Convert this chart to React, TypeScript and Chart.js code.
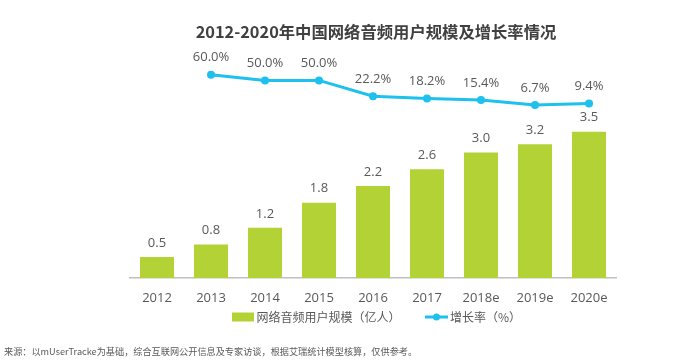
import React, { useEffect, useRef } from "react";
import { Chart, registerables } from "chart.js";

Chart.register(...registerables);

const categories = ["2012", "2013", "2014", "2015", "2016", "2017", "2018e", "2019e", "2020e"];
const userScale = [0.5, 0.8, 1.2, 1.8, 2.2, 2.6, 3.0, 3.2, 3.5];
const growthRate: (number | null)[] = [null, 60.0, 50.0, 50.0, 22.2, 18.2, 15.4, 6.7, 9.4];
const barLabel = "网络音频用户规模（亿人）";
const lineLabel = "增长率（%）";
const titleText = "2012-2020年中国网络音频用户规模及增长率情况";
const sourceText = "来源：以mUserTracke为基础，综合互联网公开信息及专家访谈，根据艾瑞统计模型核算，仅供参考。";

const BAR_COLOR = "#b3d236";
const LINE_COLOR = "#1ec0ee";
const TEXT_COLOR = "#595959";
const FONT = '"Open Sans", "Noto Sans CJK SC", sans-serif';
const CJK = '"Noto Sans CJK SC", "Open Sans", sans-serif';

function fitText(ctx: CanvasRenderingContext2D, text: string, weight: string, base: number, width: number) {
  ctx.font = `${weight} ${base}px ${CJK}`;
  const w = ctx.measureText(text).width;
  const size = (base * width) / w;
  ctx.font = `${weight} ${size}px ${CJK}`;
}

const decorPlugin = {
  id: "decor",
  afterDatasetsDraw(chart: any) {
    const ctx = chart.ctx;
    ctx.save();
    ctx.fillStyle = TEXT_COLOR;
    ctx.textAlign = "center";
    ctx.textBaseline = "middle";
    ctx.font = `13px ${FONT}`;
    const barMeta = chart.getDatasetMeta(0);
    barMeta.data.forEach((el: any, i: number) => {
      ctx.fillText(userScale[i].toFixed(1), el.x, el.y - 14);
    });
    const lineMeta = chart.getDatasetMeta(1);
    lineMeta.data.forEach((el: any, i: number) => {
      const v = growthRate[i];
      if (v === null || v === undefined) return;
      ctx.fillText(v.toFixed(1) + "%", el.x, el.y - 17);
    });
    ctx.restore();
  },
  afterDraw(chart: any) {
    const ctx = chart.ctx;
    ctx.save();
    // title
    ctx.fillStyle = "#404040";
    ctx.textAlign = "center";
    ctx.textBaseline = "middle";
    fitText(ctx, titleText, "bold", 16, 361);
    ctx.fillText(titleText, 376, 32);

    // legend
    const y = 317;
    ctx.fillStyle = BAR_COLOR;
    ctx.fillRect(232, y - 4.5, 22, 9);
    ctx.fillStyle = TEXT_COLOR;
    ctx.textAlign = "left";
    ctx.font = `12px ${CJK}`;
    ctx.fillText(barLabel, 256.5, y);
    ctx.strokeStyle = LINE_COLOR;
    ctx.lineWidth = 3;
    ctx.beginPath();
    ctx.moveTo(425, y);
    ctx.lineTo(448, y);
    ctx.stroke();
    ctx.fillStyle = LINE_COLOR;
    ctx.beginPath();
    ctx.arc(436.5, y, 3.5, 0, Math.PI * 2);
    ctx.fill();
    ctx.fillStyle = TEXT_COLOR;
    ctx.font = `12px ${CJK}`;
    ctx.fillText(lineLabel, 450, y);

    // source
    fitText(ctx, sourceText, "", 9, 414);
    ctx.fillStyle = TEXT_COLOR;
    ctx.fillText(sourceText, 4, 352);
    ctx.restore();
  },
};

export default function App() {
  const ref = useRef<HTMLCanvasElement>(null);
  useEffect(() => {
    document.body.style.margin = "0";
    const chart = new Chart(ref.current as HTMLCanvasElement, {
      data: {
        labels: categories,
        datasets: [
          {
            type: "bar",
            label: barLabel,
            data: userScale,
            backgroundColor: BAR_COLOR,
            yAxisID: "y",
            categoryPercentage: 1,
            barPercentage: 0.63,
            order: 2,
          },
          {
            type: "line",
            label: lineLabel,
            data: growthRate,
            borderColor: LINE_COLOR,
            backgroundColor: LINE_COLOR,
            borderWidth: 3,
            pointRadius: 4,
            pointBackgroundColor: LINE_COLOR,
            pointBorderWidth: 0,
            yAxisID: "y2",
            tension: 0,
            order: 1,
          },
        ],
      } as any,
      options: {
        animation: false,
        responsive: false,
        maintainAspectRatio: false,
        layout: { padding: { left: 130, right: 83, top: 60, bottom: 0 } },
        plugins: {
          legend: { display: false },
          title: { display: false },
          tooltip: { enabled: false },
        },
        scales: {
          x: {
            grid: { display: false },
            border: { display: true, color: "#bfbfbf", width: 1.5 },
            ticks: {
              color: TEXT_COLOR,
              font: { size: 13, family: FONT },
              padding: 4,
            },
            afterFit: (scale: any) => {
              scale.height = 83;
            },
          },
          y: { display: false, min: 0, max: 5.215 },
          y2: { display: false, min: -297.9, max: 85.9 },
        },
      } as any,
      plugins: [decorPlugin],
    });
    return () => chart.destroy();
  }, []);
  return (
    <div style={{ width: 699, height: 361, background: "#fff" }}>
      <canvas ref={ref} width={699} height={361} style={{ display: "block" }} />
    </div>
  );
}
